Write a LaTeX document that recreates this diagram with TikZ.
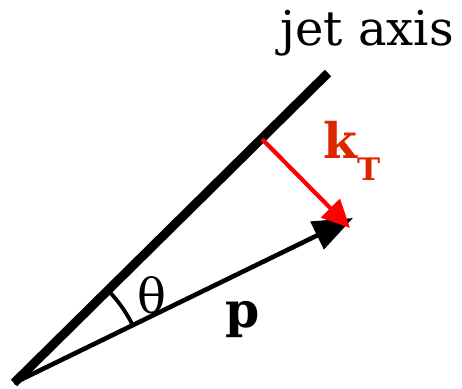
\documentclass[tikz,border=0pt]{standalone}
\usepackage{fontspec}
\setmainfont{DejaVu Serif}
\usetikzlibrary{arrows.meta}
\definecolor{ktred}{RGB}{221,38,0}
\tikzset{
  axisline/.style={line width=9pt},
  vecline/.style={line width=4.6pt},
  lbl/.style={inner sep=0pt, font=\fontsize{48}{48}\selectfont},
  boldlbl/.style={inner sep=0pt, font=\fontsize{49}{49}\bfseries\selectfont},
}
\begin{document}
\begin{tikzpicture}[x=1pt,y=-1pt]
\useasboundingbox (0,0) rectangle (462,388);
\coordinate (O) at (14,383);
\coordinate (J) at (328,73);
\coordinate (P) at (353,218);
\coordinate (A) at (262,139);
\coordinate (K) at (350,228);
\draw[axisline] (O) -- (J);
\draw[vecline, -{Triangle[length=40pt,width=30pt]}] (O) -- (P);
\draw[line width=4.2pt, red, -{Triangle[length=28pt,width=26pt]}] (A) -- (K);
\draw[line width=3.8pt] ([shift={(-44.7:132)}]O) arc[start angle=-44.7, end angle=-26, radius=132];
\node[lbl, anchor=base] (jet) at (367,45) {jet axis};
\node[lbl] (th) at (152,295) {θ};
\node[boldlbl, anchor=base] (p) at (243,327) {p};
\node[boldlbl, text=ktred, anchor=base west] (kt) at (323,158) {k\raisebox{-22pt}{\fontsize{31}{31}\selectfont T}};
\end{tikzpicture}
\end{document}
